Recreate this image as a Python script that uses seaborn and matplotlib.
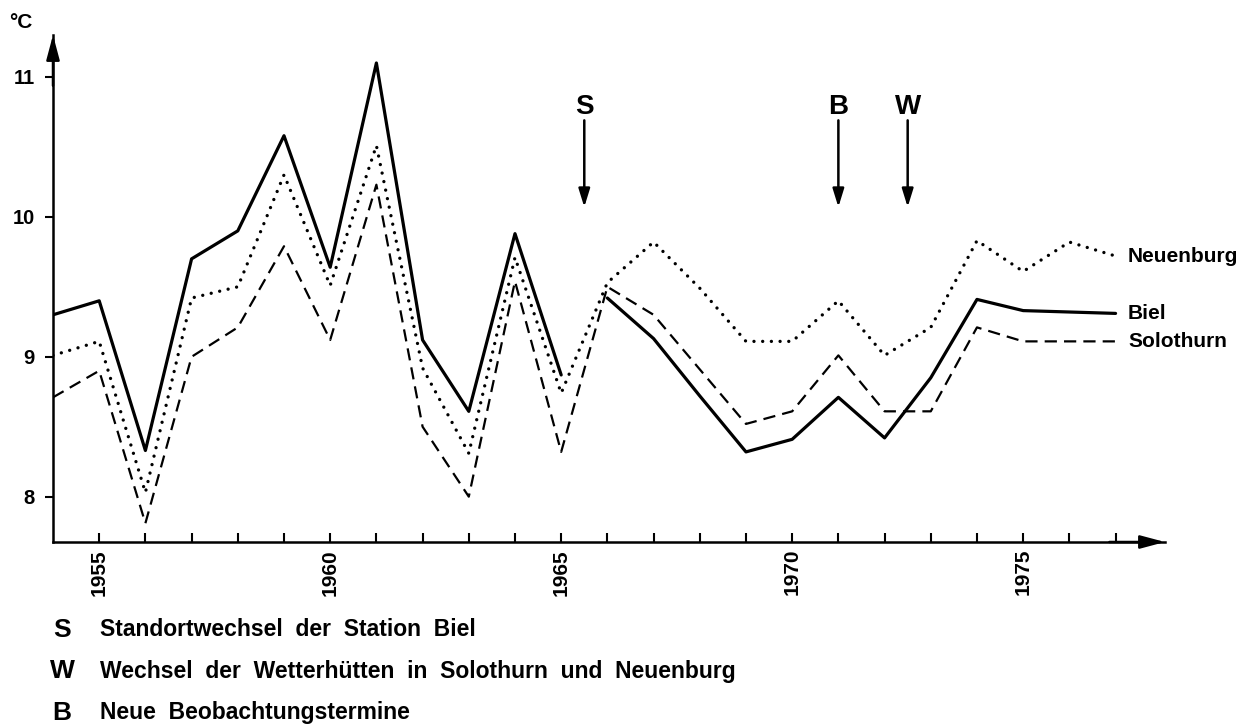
import numpy as np
import pandas as pd
import matplotlib
matplotlib.use("Agg")
import matplotlib.pyplot as plt
import seaborn as sns

# ---------------- data ----------------
years = list(range(1954, 1978))
biel = [9.30, 9.40, 8.33, 9.70, 9.90, 10.58, 9.64, 11.10, 9.12, 8.61, 9.88, 8.87,
        9.42, 9.13, 8.72, 8.32, 8.41, 8.71, 8.42, 8.85, 9.41, 9.33, 9.32, 9.31]
neuenburg = [9.01, 9.11, 8.03, 9.42, 9.50, 10.30, 9.51, 10.51, 8.92, 8.31, 9.71, 8.74,
             9.53, 9.82, 9.49, 9.11, 9.11, 9.40, 9.01, 9.21, 9.83, 9.61, 9.82, 9.72]
solothurn = [8.71, 8.90, 7.81, 9.00, 9.21, 9.79, 9.12, 10.23, 8.50, 8.00, 9.54, 8.32,
             9.50, 9.30, 8.91, 8.52, 8.61, 9.01, 8.61, 8.61, 9.21, 9.11, 9.11, 9.11]
series_names = ["Neuenburg", "Biel", "Solothurn"]

event_letters = ["S", "B", "W"]
event_years = [1965.5, 1971.0, 1972.5]

note_letters = ["S", "W", "B"]
note_texts = ["Standortwechsel  der  Station  Biel",
              "Wechsel  der  Wetterhütten  in  Solothurn  und  Neuenburg",
              "Neue  Beobachtungstermine"]

y_ticks = [8, 9, 10, 11]
x_label_years = [1955, 1960, 1965, 1970, 1975]
unit_label = "°C"

# ---------------- style ----------------
sns.set_theme(style="white")
plt.rcParams["font.family"] = ["Liberation Sans", "DejaVu Sans"]
plt.rcParams["font.weight"] = "bold"
for k in ["text.color", "axes.labelcolor", "xtick.color", "ytick.color", "axes.edgecolor"]:
    plt.rcParams[k] = "black"

fig = plt.figure(figsize=(12.46, 7.26), dpi=100)
ax = fig.add_axes([53 / 1246, (726 - 542) / 726, (1165 - 53) / 1246, (542 - 35) / 726])

# split Biel at the station change (S)
s_year = event_years[event_letters.index("S")]
df_biel = pd.DataFrame({"year": years, "temp": biel})
df_biel["segment"] = np.where(df_biel["year"] < s_year, 0, 1)
df_neu = pd.DataFrame({"year": years, "temp": neuenburg})
df_sol = pd.DataFrame({"year": years, "temp": solothurn})

sns.lineplot(data=df_neu, x="year", y="temp", ax=ax, color="black", lw=2.4,
             linestyle=(0, (0.01, 2.6)), dash_capstyle="round", solid_capstyle="round")
sns.lineplot(data=df_sol, x="year", y="temp", ax=ax, color="black", lw=1.6,
             linestyle=(0, (5.5, 3.2)))
sns.lineplot(data=df_biel, x="year", y="temp", units="segment", estimator=None,
             ax=ax, color="black", lw=2.3)

ax.set_xlim(1954, 1978.07)
ax.set_ylim(7.676, 11.30)

# axes appearance
for side in ["top", "right"]:
    ax.spines[side].set_visible(False)
for side in ["left", "bottom"]:
    ax.spines[side].set_linewidth(1.8)
    ax.spines[side].set_color("black")

ax.set_yticks(y_ticks)
ax.set_yticklabels([str(v) for v in y_ticks], fontsize=14.5, fontweight="bold")
ax.tick_params(axis="y", direction="out", length=6, width=1.5, pad=7, left=True)

xt = list(range(1955, 1978))
ax.set_xticks(xt)
ax.set_xticklabels([str(y) if y in x_label_years else "" for y in xt],
                   rotation=90, fontsize=15, fontweight="bold")
ax.tick_params(axis="x", direction="in", length=6.5, width=1.5, pad=5, bottom=True)
ax.set_xlabel("")
ax.set_ylabel("")
if ax.get_legend() is not None:
    ax.get_legend().remove()

# axis arrowheads
arrow_kw = dict(arrowstyle="-|>,head_length=0.75,head_width=0.2", color="black",
                lw=1.8, mutation_scale=20, shrinkA=0, shrinkB=0)
ax.annotate("", xy=(0, 1), xytext=(0, 0.9), xycoords="axes fraction",
            textcoords="axes fraction", arrowprops=arrow_kw, annotation_clip=False)
ax.annotate("", xy=(1, 0), xytext=(0.95, 0), xycoords="axes fraction",
            textcoords="axes fraction", arrowprops=arrow_kw, annotation_clip=False)

fig.text(21 / 1246, 1 - 22 / 726, unit_label, fontsize=15, fontweight="bold",
         ha="center", va="center")

# event arrows
for letter, yr in zip(event_letters, event_years):
    ax.annotate("", xy=(yr, 10.07), xytext=(yr, 10.69),
                arrowprops=dict(arrowstyle="-|>,head_length=0.55,head_width=0.17",
                                color="black", lw=1.8, mutation_scale=20,
                                shrinkA=0, shrinkB=0))
    ax.text(yr, 10.785, letter, ha="center", va="center", fontsize=20,
            fontweight="bold")

# series labels at line ends
for name, vals in zip(series_names, [neuenburg, biel, solothurn]):
    ax.text(1977.27, vals[-1], name, ha="left", va="center", fontsize=15,
            fontweight="bold")

# notes below
for i, (l, t) in enumerate(zip(note_letters, note_texts)):
    yc = 1 - (630 + i * 41.5) / 726
    fig.text(62 / 1246, yc, l, ha="center", va="center", fontsize=19, fontweight="bold")
    fig.text(100 / 1246, yc, t, ha="left", va="center", fontsize=16.5, fontweight="bold")

fig.savefig("out.png", dpi=100)
